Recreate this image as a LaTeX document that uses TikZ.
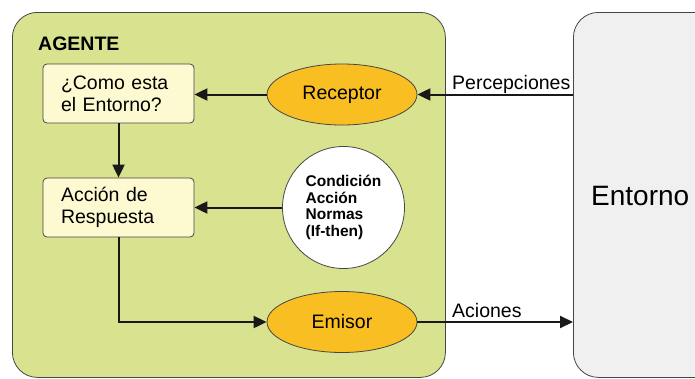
\documentclass[tikz,border=0pt]{standalone}
\usepackage{fontspec}
\setmainfont{Liberation Sans}
\usetikzlibrary{shapes.geometric,arrows.meta}
\definecolor{agentgreen}{RGB}{217,226,143}
\definecolor{boxcream}{RGB}{253,249,208}
\definecolor{ellorange}{RGB}{249,190,34}
\definecolor{envgray}{RGB}{240,240,240}
\definecolor{edgegray}{RGB}{70,70,70}
\begin{document}
\begin{tikzpicture}[x=1pt,y=-1pt,
  txt/.style={font=\fontsize{19.5}{22}\selectfont},
  qbox/.style={draw=edgegray,line width=0.8pt,fill=boxcream,rounded corners=4pt,
    minimum width=151pt,minimum height=59pt,text width=115pt,align=left,
    inner xsep=18pt,inner ysep=0pt,txt},
  oval/.style={ellipse,draw=edgegray,line width=0.8pt,fill=ellorange,
    minimum width=150pt,minimum height=61pt,inner sep=0pt,txt},
  rule/.style={circle,draw=edgegray,line width=0.8pt,fill=white,minimum size=122pt,
    inner sep=0pt,align=left,font=\bfseries\fontsize{15.5}{16.6}\selectfont},
  arr/.style={line width=2pt,black!90,-{Triangle[length=13pt,width=12pt]}},
  lbl/.style={txt,anchor=base west,inner sep=0pt}]
\clip (0,0) rectangle (695,378);
\useasboundingbox (0,0) rectangle (695,378);
% containers
\node[draw=edgegray,line width=0.8pt,fill=agentgreen,rounded corners=25pt,
  minimum width=433pt,minimum height=365pt,anchor=north west,inner sep=0pt] (agent) at (12,12) {};
\node[draw=edgegray,line width=0.8pt,fill=envgray,rounded corners=25pt,
  minimum width=180pt,minimum height=365pt,anchor=north west,inner sep=0pt] (env) at (573,12) {};
\node[anchor=west,inner sep=0pt,font=\fontsize{28}{32}\selectfont] (envlabel) at (591,196) {Entorno};
\node[anchor=base west,inner sep=0pt,font=\bfseries\fontsize{19.5}{22}\selectfont] (agentlabel) at (38,50) {AGENTE};
% nodes
\node[qbox] (b1) at (118.5,93.5) {¿Como esta\\el Entorno?};
\node[qbox] (b2) at (118.5,207.5) {Acción de\\Respuesta};
\node[oval] (rec) at (342,94.5) {Receptor};
\node[oval] (emi) at (342,322) {Emisor};
\node[rule] (cond) at (343.5,207.5) {Condición\\Acción\\Normas\\(If-then)};
% connectors
\draw[arr] (rec.west) -- (rec.west -| b1.east);
\draw[arr] (b1.south) -- (b2.north);
\draw[arr] (cond.west) -- (cond.west -| b2.east);
\draw[arr] (b2.south) |- (emi.west);
\draw[arr] (rec.east -| env.west) -- (rec.east);
\draw[arr] (emi.east) -- (emi.east -| env.west);
\node[lbl] (perc) at (452,89) {Percepciones};
\node[lbl] (acc) at (452,317) {Aciones};
\end{tikzpicture}
\end{document}
